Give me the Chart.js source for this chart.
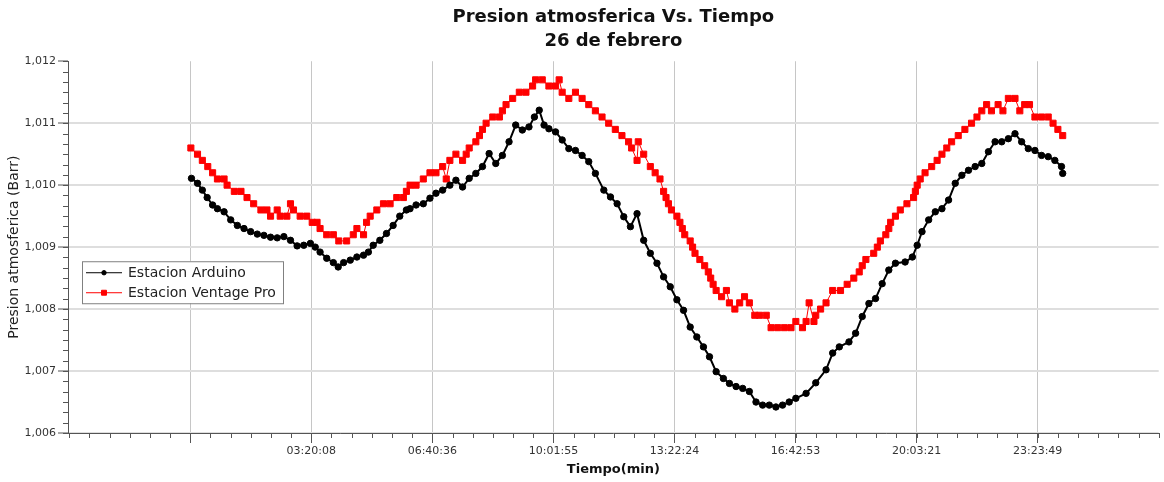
<!DOCTYPE html>
<html>
<head>
<meta charset="utf-8">
<title>Presion atmosferica Vs. Tiempo</title>
<script src="https://cdn.jsdelivr.net/npm/chart.js@4.4.1/dist/chart.umd.min.js"></script>
<style>
  html, body { margin: 0; padding: 0; background: #fff; }
  #wrap { width: 1164px; height: 482px; }
</style>
</head>
<body>
<div id="wrap"><canvas id="pressureChart" width="1164" height="482"></canvas></div>
<script>
// Estacion Arduino: minutes since start / pressure (bar)
const arduinoMin = [
  2, 12, 20, 28, 37, 45, 56, 67, 78, 89,
  100, 111, 122, 133, 144, 155, 166, 177, 188, 199,
  207, 215, 226, 237, 245, 254, 265, 276, 287, 295,
  303, 314, 325, 336, 347, 358, 364, 374, 386, 397,
  407, 418, 430, 440, 451, 462, 473, 484, 495, 506,
  517, 528, 539, 550, 561, 570, 578, 586, 594, 605,
  616, 627, 638, 649, 660, 671, 685, 696, 707, 718,
  729, 740, 751, 762, 773, 784, 795, 806, 817, 828,
  839, 850, 860, 871, 883, 893, 904, 915, 926, 937,
  948, 959, 970, 981, 992, 1003, 1020, 1036, 1053, 1064,
  1075, 1091, 1102, 1113, 1124, 1135, 1146, 1157, 1168, 1184,
  1196, 1204, 1212, 1223, 1234, 1245, 1256, 1267, 1278, 1289,
  1300, 1311, 1322, 1333, 1344, 1355, 1366, 1377, 1388, 1399,
  1410, 1421, 1432, 1443, 1445
];
const arduinoBar = [
  1.01011, 1.01003, 1.00992, 1.00980, 1.00968, 1.00962, 1.00957, 1.00944, 1.00935, 1.00930,
  1.00925, 1.00921, 1.00919, 1.00916, 1.00915, 1.00917, 1.00911, 1.00902, 1.00903, 1.00906,
  1.00900, 1.00892, 1.00882, 1.00875, 1.00868, 1.00875, 1.00879, 1.00884, 1.00887, 1.00892,
  1.00903, 1.00911, 1.00922, 1.00935, 1.00950, 1.00960, 1.00962, 1.00968, 1.00970, 1.00979,
  1.00987, 1.00992, 1.01000, 1.01008, 1.00997, 1.01011, 1.01019, 1.01030, 1.01051, 1.01035,
  1.01048, 1.01070, 1.01097, 1.01089, 1.01094, 1.01110, 1.01121, 1.01097, 1.01091, 1.01086,
  1.01073, 1.01059, 1.01056, 1.01048, 1.01038, 1.01019, 1.00992, 1.00981, 1.00970, 1.00949,
  1.00933, 1.00954, 1.00911, 1.00890, 1.00874, 1.00852, 1.00836, 1.00815, 1.00798, 1.00771,
  1.00755, 1.00739, 1.00723, 1.00699, 1.00688, 1.00680, 1.00675, 1.00672, 1.00667, 1.00650,
  1.00645, 1.00645, 1.00642, 1.00645, 1.00650, 1.00656, 1.00664, 1.00681, 1.00702, 1.00729,
  1.00739, 1.00747, 1.00761, 1.00788, 1.00809, 1.00817, 1.00841, 1.00863, 1.00874, 1.00876,
  1.00884, 1.00903, 1.00925, 1.00944, 1.00957, 1.00962, 1.00976, 1.01003, 1.01016, 1.01024,
  1.01030, 1.01035, 1.01054, 1.01070, 1.01070, 1.01075, 1.01083, 1.01070, 1.01059, 1.01056,
  1.01048, 1.01046, 1.01040, 1.01030, 1.01019
];

// Estacion Ventage Pro: minutes since start / pressure (bar)
const ventageMin = [
  1, 12, 20, 29, 37, 45, 56, 61, 73, 84,
  94, 105, 117, 127, 133, 144, 149, 160, 166, 171,
  182, 193, 202, 210, 215, 226, 237, 246, 259, 270,
  276, 287, 292, 298, 309, 320, 331, 342, 353, 358,
  364, 374, 386, 397, 407, 418, 424, 430, 440, 451,
  457, 462, 473, 479, 484, 490, 501, 512, 517, 523,
  534, 545, 556, 567, 572, 583, 594, 605, 611, 616,
  627, 638, 649, 660, 671, 682, 693, 704, 715, 726,
  731, 740, 742, 751, 762, 770, 778, 784, 788, 792,
  797, 806, 811, 815, 819, 828, 832, 836, 844, 852,
  858, 862, 866, 871, 880, 888, 893, 902, 910, 918,
  926, 935, 943, 954, 962, 973, 984, 995, 1003, 1014,
  1020, 1025, 1033, 1036, 1044, 1053, 1064, 1077, 1088, 1099,
  1108, 1113, 1119, 1132, 1138, 1143, 1152, 1157, 1160, 1168,
  1176, 1187, 1198, 1201, 1204, 1209, 1217, 1228, 1237, 1245,
  1253, 1261, 1272, 1283, 1294, 1303, 1311, 1319, 1327, 1338,
  1346, 1355, 1366, 1374, 1382, 1390, 1399, 1410, 1421, 1429,
  1437, 1445
];
const ventageBar = [
  1.0106, 1.0105, 1.0104, 1.0103, 1.0102, 1.0101, 1.0101, 1.0100, 1.0099, 1.0099,
  1.0098, 1.0097, 1.0096, 1.0096, 1.0095, 1.0096, 1.0095, 1.0095, 1.0097, 1.0096,
  1.0095, 1.0095, 1.0094, 1.0094, 1.0093, 1.0092, 1.0092, 1.0091, 1.0091, 1.0092,
  1.0093, 1.0092, 1.0094, 1.0095, 1.0096, 1.0097, 1.0097, 1.0098, 1.0098, 1.0099,
  1.0100, 1.0100, 1.0101, 1.0102, 1.0102, 1.0103, 1.0101, 1.0104, 1.0105, 1.0104,
  1.0105, 1.0106, 1.0107, 1.0108, 1.0109, 1.0110, 1.0111, 1.0111, 1.0112, 1.0113,
  1.0114, 1.0115, 1.0115, 1.0116, 1.0117, 1.0117, 1.0116, 1.0116, 1.0117, 1.0115,
  1.0114, 1.0115, 1.0114, 1.0113, 1.0112, 1.0111, 1.0110, 1.0109, 1.0108, 1.0107,
  1.0106, 1.0104, 1.0107, 1.0105, 1.0103, 1.0102, 1.0101, 1.0099, 1.0098, 1.0097,
  1.0096, 1.0095, 1.0094, 1.0093, 1.0092, 1.0091, 1.0090, 1.0089, 1.0088, 1.0087,
  1.0086, 1.0085, 1.0084, 1.0083, 1.0082, 1.0083, 1.0081, 1.0080, 1.0081, 1.0082,
  1.0081, 1.0079, 1.0079, 1.0079, 1.0077, 1.0077, 1.0077, 1.0077, 1.0078, 1.0077,
  1.0078, 1.0081, 1.0078, 1.0079, 1.0080, 1.0081, 1.0083, 1.0083, 1.0084, 1.0085,
  1.0086, 1.0087, 1.0088, 1.0089, 1.0090, 1.0091, 1.0092, 1.0093, 1.0094, 1.0095,
  1.0096, 1.0097, 1.0098, 1.0099, 1.0100, 1.0101, 1.0102, 1.0103, 1.0104, 1.0105,
  1.0106, 1.0107, 1.0108, 1.0109, 1.0110, 1.0111, 1.0112, 1.0113, 1.0112, 1.0113,
  1.0112, 1.0114, 1.0114, 1.0112, 1.0113, 1.0113, 1.0111, 1.0111, 1.0111, 1.0110,
  1.0109, 1.0108
];

// Axis ticks
const xTickValues = [0, 200.5, 401, 601.5, 802, 1002.5, 1203, 1403.5];
const xTickLabels = ['', '03:20:08', '06:40:36', '10:01:55', '13:22:24', '16:42:53', '20:03:21', '23:23:49'];
const yTickValues = [1.006, 1.007, 1.008, 1.009, 1.010, 1.011, 1.012];

const X_MIN = -202.5;
const X_MAX = 1604;
const X_STEP = 200.5;
const MINOR_PER_MAJOR = 6;
const FONT = 'DejaVu Sans';

/**
 * Short minor tick marks on both axes (Chart.js only draws the major ones)
 */
const minorTicks = {
  id: 'minorTicks',
  afterDraw(chart) {
    const ctx = chart.ctx;
    const xs = chart.scales.x;
    const ys = chart.scales.y;
    ctx.save();
    ctx.strokeStyle = '#555';
    ctx.lineWidth = 1;
    ctx.beginPath();

    const xMinor = X_STEP / MINOR_PER_MAJOR;
    for (let v = -X_STEP; v <= X_MAX + 0.01; v += xMinor) {
      const px = Math.round(xs.getPixelForValue(v)) + 0.5;
      ctx.moveTo(px, xs.top);
      ctx.lineTo(px, xs.top + 5);
    }

    const yMinor = 0.001 / MINOR_PER_MAJOR;
    for (let i = 0; i <= 6 * MINOR_PER_MAJOR; i++) {
      const py = Math.round(ys.getPixelForValue(1.006 + i * yMinor)) + 0.5;
      ctx.moveTo(ys.right, py);
      ctx.lineTo(ys.right - 5, py);
    }
    ctx.stroke();
    ctx.restore();
  }
};

/**
 * Boxed legend sitting inside the plot, like the original
 */
const boxLegend = {
  id: 'boxLegend',
  afterDraw(chart) {
    const ctx = chart.ctx;
    const area = chart.chartArea;
    const left = area.left + 14;
    const top = area.top + 200;
    const width = 201;
    const height = 42;

    ctx.save();
    ctx.fillStyle = '#fff';
    ctx.fillRect(left, top, width, height);
    ctx.strokeStyle = '#808080';
    ctx.lineWidth = 1;
    ctx.strokeRect(left + 0.5, top + 0.5, width, height);

    chart.data.datasets.forEach((ds, i) => {
      const rowY = top + 11 + i * 20;
      ctx.strokeStyle = ds.borderColor;
      ctx.lineWidth = 1;
      ctx.beginPath();
      ctx.moveTo(left + 4, rowY + 0.5);
      ctx.lineTo(left + 40, rowY + 0.5);
      ctx.stroke();

      ctx.fillStyle = ds.backgroundColor;
      ctx.strokeStyle = ds.borderColor;
      Chart.helpers.drawPoint(ctx, {
        pointStyle: ds.pointStyle,
        radius: ds.legendRadius,
        rotation: 0,
        borderWidth: 1
      }, left + 22, rowY + 0.5);

      ctx.fillStyle = '#222';
      ctx.font = '14px "' + FONT + '"';
      ctx.textBaseline = 'middle';
      ctx.fillText(ds.label, left + 46, rowY + 1);
    });
    ctx.restore();
  }
};

const ctx = document.getElementById('pressureChart');

new Chart(ctx, {
  type: 'line',
  data: {
    datasets: [
      {
        label: 'Estacion Arduino',
        data: arduinoMin.map((t, i) => ({ x: t, y: arduinoBar[i] })),
        borderColor: '#000000',
        backgroundColor: '#000000',
        borderWidth: 2,
        pointStyle: 'circle',
        pointRadius: 3.2,
        pointBorderWidth: 1,
        legendRadius: 2.2,
        tension: 0
      },
      {
        label: 'Estacion Ventage Pro',
        data: ventageMin.map((t, i) => ({ x: t, y: ventageBar[i] })),
        borderColor: '#ff0000',
        backgroundColor: '#ff0000',
        borderWidth: 1,
        pointStyle: 'rect',
        pointRadius: 4.3,
        pointBorderWidth: 1,
        legendRadius: 3.5,
        tension: 0
      }
    ]
  },
  options: {
    responsive: false,
    animation: false,
    layout: { padding: 0 },
    plugins: {
      legend: { display: false },
      tooltip: { enabled: false },
      title: {
        display: true,
        fullSize: false,
        text: ['Presion atmosferica Vs. Tiempo', '26 de febrero'],
        color: '#111',
        font: { family: FONT, size: 18, weight: 'bold', lineHeight: 1.34 },
        padding: { top: 5, bottom: 8 }
      }
    },
    scales: {
      x: {
        type: 'linear',
        min: X_MIN,
        max: X_MAX,
        afterBuildTicks: scale => {
          scale.ticks = xTickValues.map(v => ({ value: v }));
        },
        afterFit: scale => {
          scale.height = 49;
        },
        ticks: {
          autoSkip: false,
          maxRotation: 0,
          padding: 2,
          color: '#333',
          font: { family: FONT, size: 11 },
          callback: (value, index) => xTickLabels[index]
        },
        grid: {
          color: '#c6c6c6',
          lineWidth: 1,
          drawTicks: true,
          tickLength: 10,
          tickColor: '#555',
          tickWidth: 1
        },
        border: { color: '#555', width: 1 },
        title: {
          display: true,
          text: 'Tiempo(min)',
          color: '#111',
          font: { family: FONT, size: 13, weight: 'bold' },
          padding: { top: 0, bottom: 5 }
        }
      },
      y: {
        type: 'linear',
        min: 1.006,
        max: 1.012,
        afterBuildTicks: scale => {
          scale.ticks = yTickValues.map(v => ({ value: v }));
        },
        afterFit: scale => {
          scale.width = 68;
        },
        ticks: {
          padding: 2,
          color: '#333',
          font: { family: FONT, size: 11 },
          callback: value => value.toFixed(3).replace('.', ',')
        },
        grid: {
          color: c => (c.tick && c.tick.value >= 1.012 ? 'rgba(0,0,0,0)' : '#dedede'),
          lineWidth: 2,
          drawTicks: true,
          tickLength: 10,
          tickColor: '#555',
          tickWidth: 1
        },
        border: { color: '#555', width: 1 },
        title: {
          display: true,
          text: 'Presion atmosferica (Barr)',
          color: '#222',
          font: { family: FONT, size: 14 },
          padding: { top: 6, bottom: 0 }
        }
      }
    }
  },
  plugins: [minorTicks, boxLegend]
});
</script>
</body>
</html>
